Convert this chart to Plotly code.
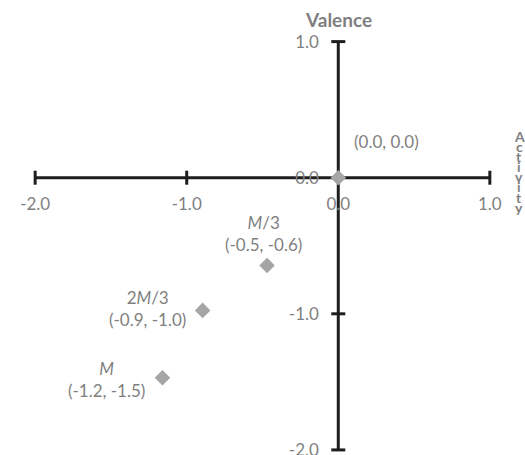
import plotly.graph_objects as go

# ---- data ----
point_names = ["", "<i>M</i>/3", "2<i>M</i>/3", "<i>M</i>"]
valence_x = [0.0, -0.47, -0.895, -1.16]      # horizontal coordinate
activity_y = [0.0, -0.645, -0.975, -1.47]    # vertical coordinate
coord_labels = ["(0.0, 0.0)", "(-0.5, -0.6)", "(-0.9, -1.0)", "(-1.2, -1.5)"]

x_tickvals = [-2.0, -1.0, 0.0, 1.0]
x_ticktext = ["-2.0", "-1.0", "0.0", "1.0"]
y_tickvals = [1.0, 0.0, -1.0, -2.0]
y_ticktext = ["1.0", "0.0", "-1.0", "-2.0"]

x_title = "Activity"
y_title = "Valence"

# ---- layout constants ----
W, H = 525, 455
ML, MR, MT, MB = 20, 20, 28, 1
XR = [-2.1, 1.1]
YR = [-2.03, 1.1]
AXIS_COLOR = "#1e1e1e"
TEXT_COLOR = "#7f7f7f"
MARK_COLOR = "#a5a5a5"
FONT = "Lato"

pw = W - ML - MR
ph = H - MT - MB
px_per_x = pw / (XR[1] - XR[0])
px_per_y = ph / (YR[1] - YR[0])

fig = go.Figure()

fig.add_trace(go.Scatter(
    x=valence_x, y=activity_y, mode="markers",
    marker=dict(symbol="diamond", size=12, color=MARK_COLOR),
    hoverinfo="skip", showlegend=False,
))

# axis lines (span the tick range) and cross caps
xmin, xmax = min(x_tickvals), max(x_tickvals)
ymin, ymax = min(y_tickvals), max(y_tickvals)
shapes = [
    dict(type="line", xref="x", yref="y", x0=xmin, x1=xmax, y0=0, y1=0,
         line=dict(color=AXIS_COLOR, width=3), layer="below"),
    dict(type="line", xref="x", yref="y", x0=0, x1=0, y0=ymin, y1=ymax,
         line=dict(color=AXIS_COLOR, width=3), layer="below"),
]
cap_y = 7 / px_per_y
cap_x = 7 / px_per_x
for v in x_tickvals:
    if v != 0:
        shapes.append(dict(type="line", xref="x", yref="y", x0=v, x1=v,
                           y0=-cap_y, y1=cap_y,
                           line=dict(color=AXIS_COLOR, width=3), layer="below"))
for v in y_tickvals:
    if v != 0:
        shapes.append(dict(type="line", xref="x", yref="y", x0=-cap_x, x1=cap_x,
                           y0=v, y1=v,
                           line=dict(color=AXIS_COLOR, width=3), layer="below"))

annotations = []
# point labels
shifts = [(48, 36), (-4, 32), (-55, 2), (-56, -2)]
for name, x, y, c, (dx, dy) in zip(point_names, valence_x, activity_y, coord_labels, shifts):
    txt = c if not name else f"{name}<br>{c}"
    annotations.append(dict(x=x, y=y, xref="x", yref="y", text=txt, showarrow=False,
                            xanchor="center", yanchor="middle",
                            xshift=dx, yshift=dy, align="center",
                            font=dict(family=FONT, size=17, color=TEXT_COLOR)))

def paper_x(px):
    return (px - ML) / pw

def paper_y(py):
    return (H - MB - py) / ph

# Valence title
annotations.append(dict(x=0, xref="x", y=paper_y(20), yref="paper", text=f"<b>{y_title}</b>",
                        xanchor="center", yanchor="middle",
                        showarrow=False, font=dict(family=FONT, size=19, color=TEXT_COLOR)))
# Activity stacked title
for i, ch in enumerate(x_title):
    annotations.append(dict(x=paper_x(519), xref="paper", y=paper_y(136 + i * 10.2), yref="paper",
                            text=f"<b>{ch}</b>", showarrow=False,
                            xanchor="center", yanchor="middle",
                            font=dict(family=FONT, size=14, color=TEXT_COLOR)))

xpos = (0 - YR[0]) / (YR[1] - YR[0])
ypos = (0 - XR[0]) / (XR[1] - XR[0])

fig.update_layout(
    width=W, height=H,
    margin=dict(l=ML, r=MR, t=MT, b=MB, autoexpand=False),
    paper_bgcolor="white", plot_bgcolor="white",
    shapes=shapes, annotations=annotations,
    xaxis=dict(range=XR, anchor="free", position=xpos, showgrid=False, zeroline=False,
               showline=False, tickvals=x_tickvals, ticktext=x_ticktext,
               ticks="outside", ticklen=11, tickcolor="rgba(0,0,0,0)",
               ticklabeloverflow="allow", automargin=False,
               tickfont=dict(family=FONT, size=17, color=TEXT_COLOR), fixedrange=True),
    yaxis=dict(range=YR, anchor="free", position=ypos, showgrid=False, zeroline=False,
               showline=False, tickvals=y_tickvals, ticktext=y_ticktext,
               ticks="outside", ticklen=16, tickcolor="rgba(0,0,0,0)",
               ticklabeloverflow="allow", automargin=False,
               tickfont=dict(family=FONT, size=17, color=TEXT_COLOR), fixedrange=True),
    showlegend=False,
)

fig.write_html("out.html", config={"displayModeBar": False},
               post_script="document.body.style.margin='0';document.body.style.overflow='hidden';")
